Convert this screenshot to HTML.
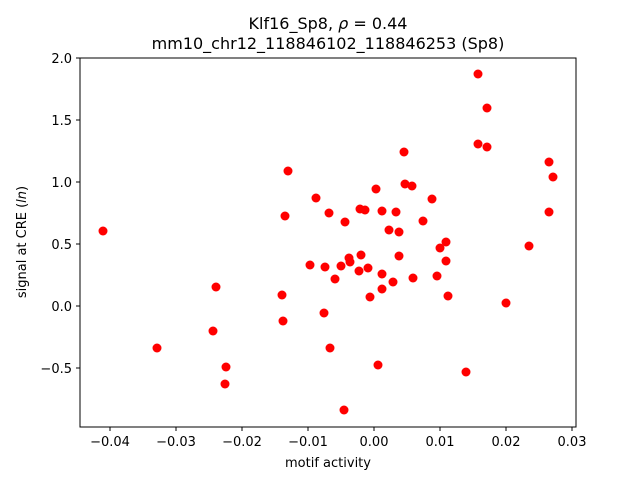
<!DOCTYPE html>
<html><head><style>body{margin:0;background:#fff}svg{display:block}text{font-family:"DejaVu Sans","Liberation Sans",sans-serif;fill:#000}</style></head>
<body>
<svg width="640" height="480" viewBox="0 0 640 480" xmlns="http://www.w3.org/2000/svg">
<rect width="640" height="480" fill="#fff"/>
<text x="328" y="29" font-size="16" text-anchor="middle">Klf16_Sp8, <tspan font-style="italic">ρ</tspan> = 0.44</text>
<text x="328" y="49" font-size="16" text-anchor="middle">mm10_chr12_118846102_118846253 (Sp8)</text>
<g fill="#f00">
<circle cx="103" cy="231" r="4.5"/><circle cx="216" cy="287" r="4.5"/><circle cx="213" cy="331" r="4.5"/><circle cx="157" cy="348" r="4.5"/><circle cx="226" cy="367" r="4.5"/><circle cx="225" cy="384" r="4.5"/><circle cx="288" cy="171" r="4.5"/><circle cx="285" cy="216" r="4.5"/><circle cx="282" cy="295" r="4.5"/><circle cx="283" cy="321" r="4.5"/><circle cx="310" cy="265" r="4.5"/><circle cx="316" cy="198" r="4.5"/><circle cx="325" cy="267" r="4.5"/><circle cx="324" cy="313" r="4.5"/><circle cx="329" cy="213" r="4.5"/><circle cx="330" cy="348" r="4.5"/><circle cx="335" cy="279" r="4.5"/><circle cx="341" cy="266" r="4.5"/><circle cx="345" cy="222" r="4.5"/><circle cx="349" cy="258" r="4.5"/><circle cx="350" cy="262" r="4.5"/><circle cx="359" cy="271" r="4.5"/><circle cx="360" cy="209" r="4.5"/><circle cx="361" cy="255" r="4.5"/><circle cx="365" cy="210" r="4.5"/><circle cx="368" cy="268" r="4.5"/><circle cx="370" cy="297" r="4.5"/><circle cx="376" cy="189" r="4.5"/><circle cx="378" cy="365" r="4.5"/><circle cx="344" cy="410" r="4.5"/><circle cx="382" cy="211" r="4.5"/><circle cx="382" cy="274" r="4.5"/><circle cx="382" cy="289" r="4.5"/><circle cx="389" cy="230" r="4.5"/><circle cx="393" cy="282" r="4.5"/><circle cx="396" cy="212" r="4.5"/><circle cx="399" cy="232" r="4.5"/><circle cx="399" cy="256" r="4.5"/><circle cx="404" cy="152" r="4.5"/><circle cx="405" cy="184" r="4.5"/><circle cx="412" cy="186" r="4.5"/><circle cx="413" cy="278" r="4.5"/><circle cx="423" cy="221" r="4.5"/><circle cx="432" cy="199" r="4.5"/><circle cx="437" cy="276" r="4.5"/><circle cx="440" cy="248" r="4.5"/><circle cx="446" cy="242" r="4.5"/><circle cx="446" cy="261" r="4.5"/><circle cx="448" cy="296" r="4.5"/><circle cx="466" cy="372" r="4.5"/><circle cx="478" cy="74" r="4.5"/><circle cx="478" cy="144" r="4.5"/><circle cx="487" cy="108" r="4.5"/><circle cx="487" cy="147" r="4.5"/><circle cx="506" cy="303" r="4.5"/><circle cx="529" cy="246" r="4.5"/><circle cx="549" cy="162" r="4.5"/><circle cx="549" cy="212" r="4.5"/><circle cx="553" cy="177" r="4.5"/>
</g>
<rect x="80" y="58" width="496" height="369" fill="none" stroke="#000" stroke-width="1"/>
<g stroke="#000" stroke-width="1">
<line x1="110" y1="427" x2="110" y2="431"/><line x1="176" y1="427" x2="176" y2="431"/><line x1="242" y1="427" x2="242" y2="431"/><line x1="308" y1="427" x2="308" y2="431"/><line x1="374" y1="427" x2="374" y2="431"/><line x1="440" y1="427" x2="440" y2="431"/><line x1="506" y1="427" x2="506" y2="431"/><line x1="572" y1="427" x2="572" y2="431"/>
<line x1="76" y1="58" x2="80" y2="58"/><line x1="76" y1="120" x2="80" y2="120"/><line x1="76" y1="182" x2="80" y2="182"/><line x1="76" y1="244" x2="80" y2="244"/><line x1="76" y1="306" x2="80" y2="306"/><line x1="76" y1="368" x2="80" y2="368"/>
</g>
<g font-size="13" text-anchor="middle">
<text x="110" y="446">−0.04</text><text x="176" y="446">−0.03</text><text x="242" y="446">−0.02</text><text x="308" y="446">−0.01</text><text x="374" y="446">0.00</text><text x="440" y="446">0.01</text><text x="506" y="446">0.02</text><text x="572" y="446">0.03</text>
<text x="328" y="467">motif activity</text>
</g>
<g font-size="13" text-anchor="end">
<text x="72" y="63">2.0</text><text x="72" y="125">1.5</text><text x="72" y="187">1.0</text><text x="72" y="249">0.5</text><text x="72" y="311">0.0</text><text x="72" y="373">−0.5</text>
</g>
<text transform="translate(26,242) rotate(-90)" font-size="13" text-anchor="middle">signal at CRE (<tspan font-style="italic">ln</tspan>)</text>
</svg>
</body></html>
